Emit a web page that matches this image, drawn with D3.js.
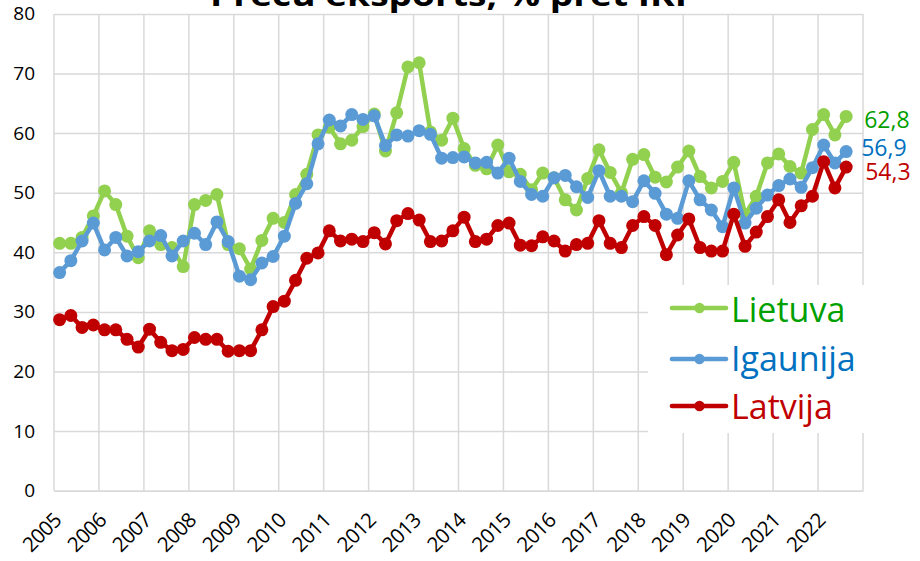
<!DOCTYPE html>
<html><head><meta charset="utf-8">
<script src="https://cdn.jsdelivr.net/npm/d3@7"></script>
<style>
html,body{margin:0;padding:0;background:#fff;}
svg{display:block;font-family:"Open Sans",sans-serif;}
</style></head>
<body>
<svg id="chart" width="920" height="561"></svg>
<script>
const years = [2005,2006,2007,2008,2009,2010,2011,2012,2013,2014,2015,2016,2017,2018,2019,2020,2021,2022];
const quarters = ["I","II","III","IV"];
const yTicks = [0,10,20,30,40,50,60,70,80];
const seriesNames = ["Lietuva","Igaunija","Latvija"];
const lietuva = [41.5,41.5,42.5,46.1,50.3,48.0,42.7,39.1,43.6,41.3,40.8,37.6,48.0,48.7,49.7,41.3,40.6,37.2,42.0,45.7,45.0,49.7,53.1,59.7,61.0,58.2,58.8,61.1,63.2,57.0,63.4,71.1,71.8,60.2,58.8,62.5,57.4,54.6,54.0,58.0,53.5,53.1,50.5,53.3,52.5,48.8,47.1,52.4,57.2,53.4,50.0,55.6,56.4,52.6,51.8,54.3,57.0,52.7,50.8,51.9,55.1,46.3,49.4,55.0,56.5,54.4,53.3,60.6,63.1,59.7,62.8];
const igaunija = [36.6,38.6,41.9,44.9,40.4,42.5,39.4,40.1,41.9,42.8,39.4,41.9,43.2,41.3,45.1,41.8,36.0,35.4,38.2,39.3,42.7,48.2,51.5,58.2,62.2,61.2,63.1,62.3,62.9,57.9,59.7,59.5,60.4,59.8,55.8,55.9,56.0,55.0,55.1,53.3,55.8,51.9,49.7,49.4,52.5,52.9,51.0,49.2,53.7,49.4,49.4,48.5,52.0,49.9,46.4,45.7,52.0,48.8,47.1,44.3,50.8,44.9,47.4,49.6,51.2,52.3,50.9,54.2,58.0,55.0,56.9];
const latvija = [28.7,29.4,27.4,27.8,27.0,27.0,25.4,24.1,27.1,24.9,23.5,23.7,25.7,25.4,25.4,23.4,23.5,23.5,27.0,30.9,31.8,35.3,39.0,39.9,43.6,41.9,42.2,41.8,43.3,41.4,45.3,46.5,45.4,41.8,41.9,43.6,45.9,41.8,42.2,44.5,44.9,41.2,41.1,42.6,41.9,40.2,41.3,41.5,45.3,41.5,40.8,44.5,46.0,44.5,39.6,42.9,45.6,40.8,40.2,40.2,46.4,41.0,43.4,46.0,48.8,45.0,47.8,49.4,55.2,50.8,54.3];
const endLabels = ["62,8","56,9","54,3"];
const title = "Preču eksports, % pret IKP";

const categories = years.flatMap(y => quarters.map(q => y + " " + q));
const lineColors = ["#92D050","#5B9BD5","#C00000"];
const textColors = ["#00A000","#0070C0","#C00000"];

const svg = d3.select("#chart");
const L = 54, R = 863, T = 13.9, B = 490.7;
const x = d3.scaleBand().domain(categories).range([L, R]).padding(0);
const y = d3.scaleLinear().domain([0, 80]).range([B, T]);
const cx = (i) => x(categories[i]) + x.bandwidth() / 2;

// title (cut at top)
svg.append("text").attr("x", 454).attr("y", 6).attr("text-anchor", "middle")
  .attr("font-weight", "bold").attr("font-size", 31).attr("fill", "#000")
  .attr("textLength", 488).attr("lengthAdjust", "spacingAndGlyphs").text(title);

// horizontal grid + y labels
const yAxis = svg.append("g").attr("transform", `translate(${L},0)`)
  .call(d3.axisLeft(y).tickValues(yTicks).tickSize(-(R - L)).tickPadding(19).tickFormat(d3.format("d")));
yAxis.select(".domain").remove();
yAxis.selectAll(".tick line").attr("stroke", "#d9d9d9").attr("stroke-width", 1.5);
yAxis.selectAll(".tick text").attr("font-size", 19).attr("fill", "#000").attr("font-family", "Open Sans");

// vertical grid at year boundaries
const vx = years.map(yr => x(yr + " I")).concat([R]);
svg.append("g").selectAll("line").data(vx).join("line")
  .attr("x1", d => d).attr("x2", d => d).attr("y1", T).attr("y2", B)
  .attr("stroke", "#d9d9d9").attr("stroke-width", 1.5);

// x labels
const xAxis = svg.append("g").attr("transform", `translate(0,${B})`)
  .call(d3.axisBottom(x).tickValues(years.map(yr => yr + " I")).tickSize(0).tickFormat(d => d.split(" ")[0]));
xAxis.select(".domain").attr("stroke", "#d9d9d9").attr("stroke-width", 1.5);
xAxis.selectAll(".tick text").attr("font-size", 20.5).attr("fill", "#000").attr("font-family", "Open Sans")
  .attr("text-anchor", "end").attr("y", 0).attr("dy", 0).attr("letter-spacing", -0.6)
  .attr("transform", "translate(3,31) rotate(-45)");

// series
const data = [lietuva, igaunija, latvija];
const line = d3.line().x((d, i) => cx(i)).y(d => y(d));
data.forEach((vals, s) => {
  const g = svg.append("g");
  g.append("path").datum(vals).attr("d", line).attr("fill", "none")
    .attr("stroke", lineColors[s]).attr("stroke-width", 4.5).attr("stroke-linejoin", "round");
  g.selectAll("circle").data(vals).join("circle")
    .attr("cx", (d, i) => cx(i)).attr("cy", d => y(d)).attr("r", 6.5).attr("fill", lineColors[s]);
});

// end labels
const labelDx = [18, 15, 19];
const labelDy = [11.6, 4.5, 12.9];
data.forEach((vals, s) => {
  const i = vals.length - 1;
  svg.append("text").attr("x", cx(i) + labelDx[s]).attr("y", y(vals[i]) + labelDy[s])
    .attr("font-size", 23).attr("fill", textColors[s]).text(endLabels[s]);
});

// legend
const lg = svg.append("g");
lg.append("rect").attr("x", 648).attr("y", 285).attr("width", 272).attr("height", 148).attr("fill", "#fff");
const legY = [308, 359, 406];
const legBase = [322, 371, 419];
seriesNames.forEach((n, s) => {
  lg.append("line").attr("x1", 672).attr("x2", 726).attr("y1", legY[s]).attr("y2", legY[s])
    .attr("stroke", lineColors[s]).attr("stroke-width", 4.7).attr("stroke-linecap", "round");
  lg.append("circle").attr("cx", 699.5).attr("cy", legY[s]).attr("r", 5.2).attr("fill", lineColors[s]);
  lg.append("text").attr("x", 731).attr("y", legBase[s]).attr("font-size", 34)
    .attr("fill", textColors[s]).text(n);
});
</script>
</body></html>
